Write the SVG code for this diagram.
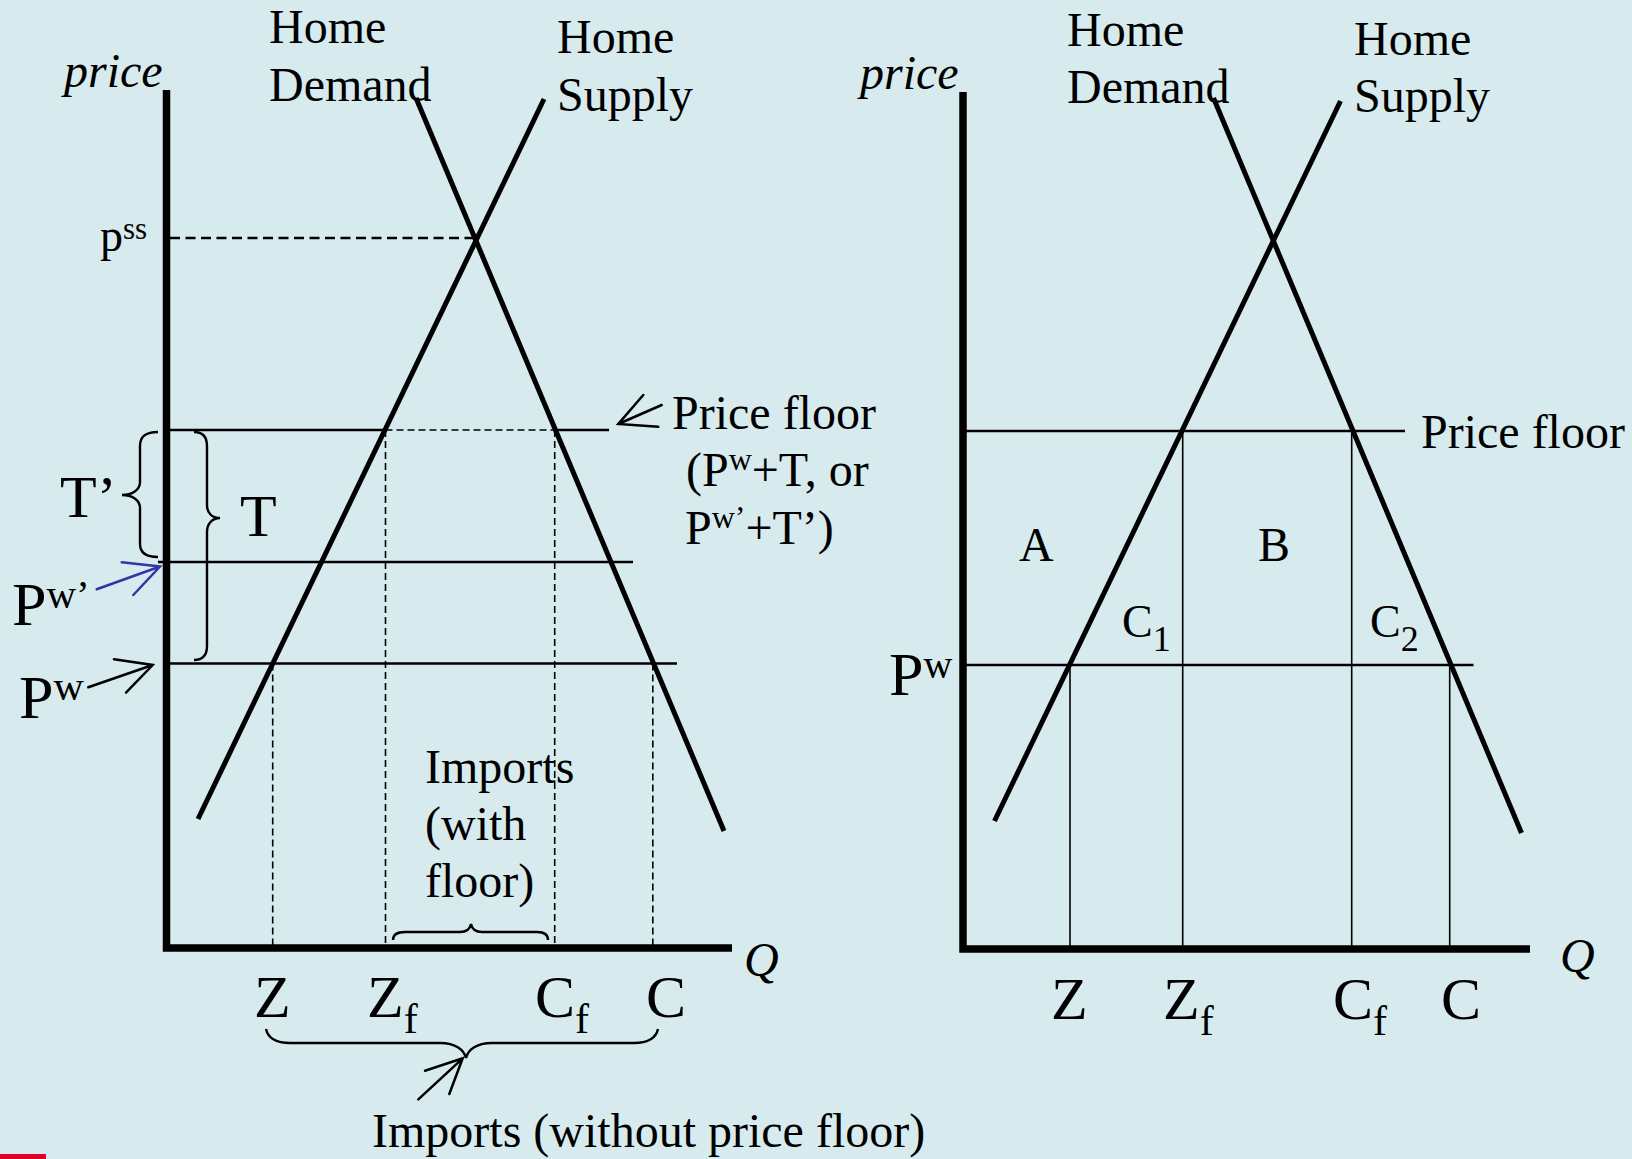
<svg xmlns="http://www.w3.org/2000/svg" width="1632" height="1159" viewBox="0 0 1632 1159">
<style>
text{font-family:"Liberation Serif","Times New Roman",serif;fill:#000}
.t48{font-size:48px}
.t60{font-size:60px}
.it{font-style:italic}
.axis{fill:none;stroke:#000;stroke-width:7.5;stroke-linejoin:miter}
.curve{fill:none;stroke:#000;stroke-width:5}
.thin{fill:none;stroke:#000;stroke-width:2.4}
.vthin{fill:none;stroke:#000;stroke-width:1.6}
.dash{fill:none;stroke:#000;stroke-width:1.6;stroke-dasharray:7 4}
.pdash{fill:none;stroke:#000;stroke-width:2.6;stroke-dasharray:10 5.5}
.brace{fill:none;stroke:#000;stroke-width:2.4}
.arr{fill:none;stroke:#000;stroke-width:2.5;stroke-linecap:round}
</style>
<rect x="0" y="0" width="1632" height="1159" fill="#d7ebee"/>
<rect x="0" y="1154" width="46" height="5" fill="#e2002b"/>

<!-- LEFT PANEL -->
<g id="left-axes">
<path class="axis" d="M166.5,90 L166.5,948 L732,948"/>
<text class="t48 it" x="64" y="87">price</text>
<text class="it" font-size="48" x="744" y="976">Q</text>
</g>
<g id="left-curves">
<path class="curve" d="M416,98 L724,831"/>
<path class="curve" d="M544,99 L198,819"/>
<text class="t48" x="269" y="43">Home</text>
<text class="t48" x="269" y="101">Demand</text>
<text class="t48" x="557" y="53">Home</text>
<text class="t48" x="557" y="111">Supply</text>
</g>
<g id="left-pss">
<path class="pdash" d="M170,238 L476,238"/>
<text font-size="46" x="100" y="251">p<tspan font-size="31" dy="-12">ss</tspan></text>
</g>
<g id="left-levels">
<path class="thin" d="M166,430 L385.5,430 M554.7,430 L609,430"/>
<path class="dash" d="M385.5,430 L554.7,430"/>
<path class="thin" d="M158,562 L633,562"/>
<path class="thin" d="M166,663.5 L677,663.5"/>
</g>
<g id="left-verticals">
<path class="dash" d="M272.7,663.5 L272.7,945"/>
<path class="dash" d="M385.5,430 L385.5,945"/>
<path class="dash" d="M554.7,430 L554.7,945"/>
<path class="dash" d="M652.8,663.5 L652.8,945"/>
</g>
<g id="left-braces">
<path class="brace" d="M158,432 C146,432 140,436 140,446 L140,482 C140,490 132,495 122,495 C132,495 140,500 140,508 L140,544 C140,553 146,557 158,557"/>
<path class="brace" d="M194,432 C203,432 207,437 207,446 L207,505 C207,513 212,518 220,518 C212,518 207,524 207,532 L207,646 C207,655 203,660 194,660"/>
<path class="brace" d="M393,940 C393,935 397,932 405,932 L460,932 C466,932 470,929 471,924 C472,929 476,932 482,932 L537,932 C544,932 548,935 548,940"/>
<path class="brace" d="M266,1029 C268,1038 276,1043 290,1043 L440,1043 C456,1043 464,1050 466,1058 C468,1050 476,1043 492,1043 L634,1043 C648,1043 656,1038 658,1029"/>
<text class="t60" x="60" y="517">T’</text>
<text class="t60" x="240" y="536">T</text>
</g>
<g id="left-price-labels">
<text font-size="62" x="12" y="625">P<tspan font-size="41" dy="-17">w’</tspan></text>
<text font-size="62" x="19" y="718">P<tspan font-size="42" dy="-18">w</tspan></text>
</g>
<g id="left-floor-label">
<text class="t48" x="672" y="429">Price floor</text>
<text class="t48" x="686" y="486">(P<tspan font-size="32" dy="-16">w</tspan><tspan dy="16">+T, or</tspan></text>
<text class="t48" x="685" y="544">P<tspan font-size="32" dy="-16">w’</tspan><tspan dy="16">+T’)</tspan></text>
</g>
<g id="left-imports">
<text class="t48" x="425" y="783">Imports</text>
<text class="t48" x="425" y="840">(with</text>
<text class="t48" x="425" y="897">floor)</text>
<text class="t48" x="372" y="1147">Imports (without price floor)</text>
</g>
<g id="left-qlabels">
<text class="t60" x="254" y="1017">Z</text>
<text class="t60" x="367" y="1017">Z<tspan font-size="42" dy="16">f</tspan></text>
<text class="t60" x="535" y="1017">C<tspan font-size="42" dy="16">f</tspan></text>
<text class="t60" x="646" y="1017">C</text>
</g>
<g id="connectors">
<path class="arr" style="stroke:#3434a6" d="M96.7,589.3 L160,566.5 M121.7,562.3 L160,566.5 L133.3,595"/>
<path class="arr" d="M88.3,687.3 L152.7,665 M114,659.3 L152.7,665 L126,692.7"/>
<path class="arr" d="M661.7,405 L618.3,424 M643.3,395 L618.3,424 L658.3,426.7"/>
<path class="arr" d="M418.3,1099.3 L462.7,1058.3 M425,1070.7 L462.7,1058.3 L449.3,1094"/>
</g>

<!-- RIGHT PANEL -->
<g id="right-axes">
<path class="axis" d="M963,92 L963,949 L1530,949"/>
<text class="t48 it" x="860" y="89">price</text>
<text class="it" font-size="48" x="1560" y="972">Q</text>
</g>
<g id="right-curves">
<path class="curve" d="M1213.5,98 L1521.5,833"/>
<path class="curve" d="M1340.5,101 L994.5,821"/>
<text class="t48" x="1067" y="46">Home</text>
<text class="t48" x="1067" y="103">Demand</text>
<text class="t48" x="1354" y="55">Home</text>
<text class="t48" x="1354" y="112">Supply</text>
</g>
<g id="right-levels">
<path class="thin" d="M963,431 L1405,431"/>
<path class="thin" d="M963,665 L1473.5,665"/>
<text class="t48" x="1421" y="448">Price floor</text>
<text font-size="62" x="889" y="695">P<tspan font-size="40" dy="-17">w</tspan></text>
</g>
<g id="right-verticals">
<path class="vthin" d="M1070,665 L1070,946"/>
<path class="vthin" d="M1182.7,431 L1182.7,946"/>
<path class="vthin" d="M1351.7,431 L1351.7,946"/>
<path class="vthin" d="M1449.7,665 L1449.7,946"/>
</g>
<g id="right-areas">
<text class="t48" x="1019" y="561">A</text>
<text class="t48" x="1258" y="561">B</text>
<text font-size="46" x="1122" y="637">C<tspan font-size="36" dy="14">1</tspan></text>
<text font-size="46" x="1370" y="637">C<tspan font-size="36" dy="14">2</tspan></text>
</g>
<g id="right-qlabels">
<text class="t60" x="1051" y="1019">Z</text>
<text class="t60" x="1163" y="1019">Z<tspan font-size="42" dy="16">f</tspan></text>
<text class="t60" x="1333" y="1019">C<tspan font-size="42" dy="16">f</tspan></text>
<text class="t60" x="1441" y="1019">C</text>
</g>
</svg>
